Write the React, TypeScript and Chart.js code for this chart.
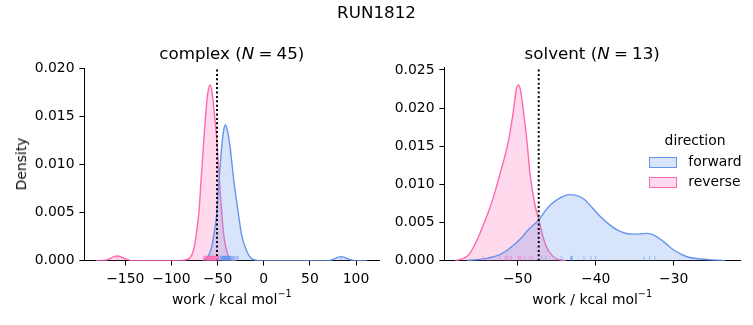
import React, { useEffect, useRef } from "react";
import { Chart, registerables } from "chart.js";

Chart.register(...registerables);

const FONT = "'DejaVu Sans', Verdana, sans-serif";
const BLUE = "rgb(100,149,237)";
const BLUE_FILL = "rgba(100,149,237,0.25)";
const PINK = "rgb(255,105,180)";
const PINK_FILL = "rgba(255,105,180,0.25)";

// ---------- complex panel ----------
const complexXTicks = [-150, -100, -50, 0, 50, 100];
const complexYTicks = [0, 0.005, 0.01, 0.015, 0.02];
const complexRef = -50.6;

const complexFwdX = [-66, -60, -56.3, -53.5, -50.9, -48.4, -45.5, -43.5, -41.6, -39.5, -36.5, -32.5, -27.5, -24, -20.3, -15, -9.4, -4, 60, 72, 76, 80, 84, 88, 92, 97, 112];
const complexFwdY = [0, 0.0005, 0.00146, 0.003, 0.00493, 0.00839, 0.01185, 0.0135, 0.01411, 0.0136, 0.01185, 0.00839, 0.00493, 0.0027, 0.00146, 0.0004, 0.00007, 0, 0, 0.00003, 0.00016, 0.00034, 0.00042, 0.00032, 0.00015, 0.00003, 0];

const complexRevX = [-182, -172, -167, -163, -158.6, -154, -150, -145, -138, -100, -88, -84, -80, -77.5, -75.2, -72.5, -70.1, -67.9, -65.4, -62.8, -60.5, -58.2, -56, -53.5, -50.3, -48.1, -45.5, -43.5, -41.2, -38.5, -36, -30];
const complexRevY = [0, 0.00004, 0.0002, 0.00039, 0.00049, 0.00036, 0.00018, 0.00004, 0, 0, 0.00002, 0.0001, 0.0003, 0.0007, 0.00146, 0.0032, 0.0052, 0.00839, 0.01185, 0.01532, 0.0175, 0.01826, 0.0175, 0.01532, 0.01185, 0.00839, 0.00493, 0.0028, 0.00146, 0.0005, 0.00005, 0];

const complexFwdRug = [-49.0, -47.8, -46.9, -46.1, -45.5, -44.8, -44.2, -43.7, -43.3, -42.9, -42.4, -42.0, -41.7, -41.3, -40.9, -40.6, -40.2, -39.8, -39.4, -38.9, -38.5, -38.0, -37.5, -37.0, -36.4, -35.8, -35.1, -34.3, -33.5, -32.6, -31.5, -30.2, -28.8, -27.6, -44.5, -43.0, -41.1, -40.0, -39.1, -37.8, -36.1, -42.6, -45.1, -38.7, 84.0];
const complexRevRug = [-65.2, -64.1, -63.5, -62.8, -62.0, -61.7, -61.1, -60.6, -60.2, -59.9, -59.4, -59.0, -58.7, -58.3, -58.0, -57.6, -57.3, -56.9, -56.5, -56.2, -55.8, -55.4, -55.0, -54.7, -54.2, -53.8, -53.3, -52.9, -52.4, -51.9, -51.5, -51.0, -50.6, -50.1, -49.6, -62.4, -60.9, -59.2, -58.5, -57.0, -55.6, -54.4, -52.1, -49.3, -158.6];

// ---------- solvent panel ----------
const solventXTicks = [-50, -40, -30];
const solventYTicks = [0, 0.005, 0.01, 0.015, 0.02, 0.025];
const solventRef = -47.3;

const solventFwdX = [-56.5, -54, -52.3, -50.8, -49.5, -48.6, -47.3, -46.5, -45.6, -44.6, -43.4, -42.3, -41.4, -40.4, -39.4, -38.2, -37.2, -36.2, -35.2, -34.2, -33.4, -32.4, -31.3, -30.0, -28.3, -26.5, -24.9, -23.4];
const solventFwdY = [0.00002, 0.0003, 0.0008, 0.0018, 0.003, 0.0041, 0.00534, 0.0065, 0.0075, 0.0082, 0.00866, 0.0085, 0.008, 0.0069, 0.0058, 0.0047, 0.004, 0.0036, 0.00348, 0.00352, 0.00358, 0.0033, 0.0025, 0.0014, 0.00052, 0.00022, 0.0001, 0];

const solventRevX = [-58, -57.2, -56.3, -55.3, -54.4, -53.5, -52.9, -52.3, -51.2, -50.5, -50.2, -49.9, -49.6, -49.3, -48.8, -48.4, -47.8, -47.3, -46.8, -46.3, -45.5, -44.6, -43.8];
const solventRevY = [0, 0.0002, 0.00075, 0.00249, 0.00468, 0.0071, 0.00905, 0.01124, 0.0156, 0.01998, 0.0223, 0.02303, 0.0222, 0.01998, 0.0156, 0.01124, 0.0074, 0.0054, 0.0033, 0.0018, 0.0006, 0.0001, 0];

const solventFwdRug = [-46.9, -46.4, -44.4, -43.2, -43.1, -43.0, -43.1, -41.5, -40.6, -40.0, -33.8, -33.1, -32.4];
const solventRevRug = [-54.4, -53.6, -52.3, -51.6, -51.4, -51.1, -50.8, -49.9, -49.8, -49.6, -49.1, -48.4, -48.1];

const MINUS = "\u2212";
const fmtInt = (v: number) => (v < 0 ? MINUS + Math.abs(v) : String(v));
const fmtDens = (v: number) => v.toFixed(3);

const toPts = (xs: number[], ys: number[]) => xs.map((x, i) => ({ x, y: ys[i] }));

const rugPlugin = {
  id: "rug",
  afterDatasetsDraw(chart: any, _args: any, opts: any) {
    const { ctx, chartArea } = chart;
    const xs = chart.scales.x;
    const ys = chart.scales.y;
    const base = ys.getPixelForValue(0);
    ctx.save();
    ctx.beginPath();
    ctx.rect(chartArea.left, chartArea.top, chartArea.right - chartArea.left, chartArea.bottom - chartArea.top);
    ctx.clip();
    ctx.lineWidth = 1;
    (opts.sets || []).forEach((s: any) => {
      ctx.strokeStyle = s.color;
      s.values.forEach((v: number) => {
        const px = xs.getPixelForValue(v);
        ctx.beginPath();
        ctx.moveTo(px, base);
        ctx.lineTo(px, base - opts.height);
        ctx.stroke();
      });
    });
    ctx.restore();
  },
};

function buildConfig(p: {
  xMin: number; xMax: number; yMax: number;
  xTicks: number[]; yTicks: number[];
  fwd: { x: number; y: number }[]; rev: { x: number; y: number }[];
  ref: number; fwdRug: number[]; revRug: number[];
  padding: { left: number; right: number; top: number; bottom: number };
}): any {
  const tickFont = { family: FONT, size: 13.9 };
  const common = {
    grid: { display: true, drawOnChartArea: false, drawTicks: true, tickLength: 4.9, tickColor: "#000", tickWidth: 1 },
    border: { display: true, color: "#000", width: 1 },
  };
  return {
    type: "line",
    data: {
      datasets: [
        {
          data: [{ x: p.ref, y: 0 }, { x: p.ref, y: p.yMax }],
          borderColor: "#000",
          borderWidth: 2,
          borderDash: [2, 2.4],
          pointRadius: 0,
          fill: false,
        },
        {
          data: p.fwd,
          borderColor: BLUE,
          backgroundColor: BLUE_FILL,
          borderWidth: 1.4,
          pointRadius: 0,
          fill: "origin",
          cubicInterpolationMode: "monotone",
        },
        {
          data: p.rev,
          borderColor: PINK,
          backgroundColor: PINK_FILL,
          borderWidth: 1.4,
          pointRadius: 0,
          fill: "origin",
          cubicInterpolationMode: "monotone",
        },
      ],
    },
    options: {
      animation: false,
      responsive: false,
      parsing: true,
      layout: { padding: p.padding },
      events: [],
      plugins: {
        legend: { display: false },
        tooltip: { enabled: false },
        title: { display: false },
        rug: {
          height: 4.8,
          sets: [
            { values: p.fwdRug, color: "rgba(100,149,237,0.55)" },
            { values: p.revRug, color: "rgba(255,105,180,0.55)" },
          ],
        },
      },
      scales: {
        x: {
          type: "linear",
          min: p.xMin,
          max: p.xMax,
          z: 1,
          ...common,
          afterBuildTicks: (s: any) => { s.ticks = p.xTicks.map((v) => ({ value: v })); },
          afterFit: (s: any) => { s.height = 40; },
          ticks: { color: "#000", font: tickFont, padding: 5, maxRotation: 0, autoSkip: false, callback: (v: any) => fmtInt(Number(v)) },
        },
        y: {
          type: "linear",
          min: 0,
          max: p.yMax,
          z: 1,
          ...common,
          afterBuildTicks: (s: any) => { s.ticks = p.yTicks.map((v) => ({ value: v })); },
          afterFit: (s: any) => { s.width = 60; },
          ticks: { color: "#000", font: tickFont, padding: 4.9, autoSkip: false, callback: (v: any) => fmtDens(Number(v)) },
        },
      },
    },
    plugins: [rugPlugin],
  };
}

const W = 753;
const H = 325;

function Txt(props: { x: number; base: number; size: number; children: any; align?: "center" | "left" }) {
  const { x, base, size, children, align = "center" } = props;
  return (
    <div
      style={{
        position: "absolute",
        left: x,
        top: base - 0.846 * size,
        height: size,
        lineHeight: size + "px",
        fontSize: size,
        fontFamily: FONT,
        whiteSpace: "nowrap",
        color: "#000",
        transform: align === "center" ? "translateX(-50%)" : undefined,
      }}
    >
      {children}
    </div>
  );
}

function XLabel({ x }: { x: number }) {
  return (
    <Txt x={x} base={304.5} size={13.9}>
      work / kcal mol
      <span style={{ fontSize: 9.7, position: "relative", top: -6.8, lineHeight: 0 }}>{MINUS}1</span>
    </Txt>
  );
}

export default function App() {
  const c1 = useRef<HTMLCanvasElement>(null);
  const c2 = useRef<HTMLCanvasElement>(null);

  useEffect(() => {
    const ch1 = new Chart(
      c1.current as HTMLCanvasElement,
      buildConfig({
        xMin: -194.4, xMax: 125.2, yMax: 0.02,
        xTicks: complexXTicks, yTicks: complexYTicks,
        fwd: toPts(complexFwdX, complexFwdY), rev: toPts(complexRevX, complexRevY),
        ref: complexRef, fwdRug: complexFwdRug, revRug: complexRevRug,
        padding: { left: 24.3, right: W - 379.3, top: 68.3, bottom: H - 260.7 - 40 },
      })
    );
    const ch2 = new Chart(
      c2.current as HTMLCanvasElement,
      buildConfig({
        xMin: -59.4, xMax: -21.5, yMax: 0.0253,
        xTicks: solventXTicks, yTicks: solventYTicks,
        fwd: toPts(solventFwdX, solventFwdY), rev: toPts(solventRevX, solventRevY),
        ref: solventRef, fwdRug: solventFwdRug, revRug: solventRevRug,
        padding: { left: 444.3 - 60, right: W - 740, top: 67.7, bottom: H - 260.7 - 40 },
      })
    );
    return () => {
      ch1.destroy();
      ch2.destroy();
    };
  }, []);

  const legendPatch = (fill: string, edge: string) => ({
    position: "absolute" as const,
    width: 26,
    height: 9,
    background: fill,
    border: `1.2px solid ${edge}`,
  });

  const sp = "\u2005";

  return (
    <div style={{ position: "absolute", left: 0, top: 0, width: W, height: H, background: "#fff", overflow: "hidden" }}>
      <canvas ref={c1} width={W} height={H} style={{ position: "absolute", left: 0, top: 0 }} />
      <canvas ref={c2} width={W} height={H} style={{ position: "absolute", left: 0, top: 0 }} />

      <Txt x={376.5} base={18.3} size={16.7}>RUN1812</Txt>
      <Txt x={231.8} base={59} size={16.7}>
        complex (<i>N</i>{sp}={sp}45)
      </Txt>
      <Txt x={592.2} base={59} size={16.7}>
        solvent (<i>N</i>{sp}={sp}13)
      </Txt>

      <XLabel x={231.8} />
      <XLabel x={592.2} />

      <div
        style={{
          position: "absolute",
          left: 21.5,
          top: 164.4,
          height: 13.9,
          lineHeight: "13.9px",
          fontSize: 13.9,
          fontFamily: FONT,
          whiteSpace: "nowrap",
          transform: "translate(-50%, -50%) rotate(-90deg)",
        }}
      >
        Density
      </div>

      {/* legend */}
      <Txt x={695} base={145.5} size={13.9}>direction</Txt>
      <div style={{ ...legendPatch(BLUE_FILL, BLUE), left: 649.3, top: 156.7 }} />
      <Txt x={688.3} base={166.7} size={13.9} align="left">forward</Txt>
      <div style={{ ...legendPatch(PINK_FILL, PINK), left: 649.3, top: 177.3 }} />
      <Txt x={688.3} base={187} size={13.9} align="left">reverse</Txt>
    </div>
  );
}
